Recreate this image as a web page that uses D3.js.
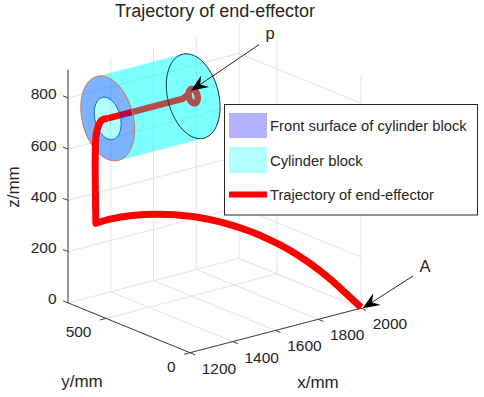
<!DOCTYPE html>
<html>
<head>
<meta charset="utf-8">
<script src="https://cdn.jsdelivr.net/npm/d3@7"></script>
<style>
  body { margin: 0; background: #fff; }
  text { font-family: "Liberation Sans", Arial, sans-serif; fill: #262626; }
</style>
</head>
<body>
<div id="chart"></div>
<script>
// Axis ticks
var xTicks = [1200, 1400, 1600, 1800, 2000]
var yTicks = [0, 500]
var zTicks = [0, 200, 400, 600, 800]
var xRange = [1200, 2000]
var yRange = [0, 726]
var zRange = [0, 910]

// Trajectory from A along the arc (mm)
var arcX = [2000, 1957, 1910, 1856, 1801, 1743, 1681, 1619, 1557, 1495, 1398, 1297, 1234, 1200]
var arcY = [0, 30, 70, 120, 170, 215, 255, 295, 335, 375, 430, 480, 520, 560]
var arcZ = [3, 56, 115, 174, 224, 265, 301, 330, 352, 368, 382, 385, 375, 355]

// Trajectory going up to the front of the cylinder (mm)
var riseX = [1200, 1200, 1200, 1200, 1200]
var riseY = [560, 560, 548, 524, 490]
var riseZ = [355, 692, 734, 768, 783]

// Trajectory inside the cylinder, ending with the small ring at p (mm)
var rodX = [1200, 1550, 1600, 1600, 1600, 1600, 1600, 1600, 1600, 1600, 1600, 1600, 1600, 1600, 1600]
var rodY = [490, 490, 518, 514, 504, 490, 476, 466, 462, 466, 476, 490, 504, 514, 518]
var rodZ = [783, 783, 783, 797, 807, 811, 807, 797, 783, 769, 759, 755, 759, 769, 783]

// Cylinder block (mm)
var cylX = [1200, 1600]
var cylCenter = [490, 783]
var cylRadius = [160, 80]

var legendLabels = ["Front surface of cylinder block", "Cylinder block", "Trajectory of end-effector"]

var W = 484, H = 397

var svg = d3.select("#chart").append("svg")
  .attr("width", W)
  .attr("height", H)

// Oblique projection, each data axis adds its own screen offset
var xToPx = d3.scaleLinear().domain(xRange).range([0, 171])
var xToPy = d3.scaleLinear().domain(xRange).range([0, -44.5])
var yToPx = d3.scaleLinear().domain([0, 500]).range([0, -84])
var yToPy = d3.scaleLinear().domain([0, 500]).range([0, -34.3])
var zToPy = d3.scaleLinear().domain([0, 800]).range([0, -205])

function project(x, y, z) {
  return [190 + xToPx(x) + yToPx(y), 352.7 + xToPy(x) + yToPy(y) + zToPy(z)]
}

var line3d = d3.line()
var smooth3d = d3.line().curve(d3.curveCatmullRom)
function points(xs, ys, zs) {
  return xs.map(function (x, i) { return project(x, ys[i], zs[i]) })
}
function segment(a, b) {
  return line3d([project(a[0], a[1], a[2]), project(b[0], b[1], b[2])])
}

// Points of a circle in the y-z plane, from angle a0 to a1 (radians)
function arc3d(x, r, a0, a1) {
  return d3.range(0, 61).map(function (i) {
    var t = a0 + (a1 - a0) * i / 60
    return project(x, cylCenter[0] + r * Math.cos(t), cylCenter[1] + r * Math.sin(t))
  })
}

// Grid on the floor and the two back walls
var grid = svg.append("g").attr("stroke", "#e4e4e4").attr("fill", "none")
function gridLine(a, b) {
  grid.append("path").attr("d", segment(a, b))
}
xTicks.forEach(function (x) {
  gridLine([x, yRange[0], 0], [x, yRange[1], 0])
  gridLine([x, yRange[1], 0], [x, yRange[1], zRange[1]])
})
yTicks.forEach(function (y) {
  gridLine([xRange[0], y, 0], [xRange[1], y, 0])
  gridLine([xRange[1], y, 0], [xRange[1], y, zRange[1]])
})
zTicks.forEach(function (z) {
  gridLine([xRange[0], yRange[1], z], [xRange[1], yRange[1], z])
  gridLine([xRange[1], yRange[1], z], [xRange[1], yRange[0], z])
})

// Axes and ticks
var axes = svg.append("g").attr("stroke", "#404040").attr("fill", "none")
function axisLine(a, b) {
  axes.append("path").attr("d", segment(a, b))
}
axisLine([xRange[0], 0, 0], [xRange[1], 0, 0])
axisLine([xRange[0], 0, 0], [xRange[0], yRange[1], 0])
axisLine([xRange[0], yRange[1], 0], [xRange[0], yRange[1], zRange[1]])
xTicks.forEach(function (x) { axisLine([x, 0, 0], [x, -30, 0]) })
yTicks.forEach(function (y) { axisLine([xRange[0], y, 0], [xRange[0] - 28, y, 0]) })
zTicks.forEach(function (z) { axisLine([xRange[0], yRange[1], z], [xRange[0], yRange[1] + 30, z]) })

// Tick labels
var ticks = svg.append("g").attr("font-size", 15.5)
xTicks.forEach(function (x) {
  var p = project(x, 0, 0)
  ticks.append("text").attr("x", p[0] + 29).attr("y", p[1] + 21)
    .attr("text-anchor", "middle").text(x)
})
yTicks.forEach(function (y) {
  var p = project(xRange[0], y, 0)
  ticks.append("text").attr("x", p[0] - 14.5).attr("y", p[1] + 19)
    .attr("text-anchor", "end").text(y)
})
zTicks.forEach(function (z) {
  var p = project(xRange[0], yRange[1], z)
  ticks.append("text").attr("x", p[0] - 11.5).attr("y", p[1] + 1.5)
    .attr("text-anchor", "end").text(z)
})

// Cylinder, silhouette angle is where the circle runs parallel to the x axis
var tangent = 66.3 * Math.PI / 180
var rightArc = [tangent, tangent + Math.PI]
var leftArc = [tangent + Math.PI, tangent + 2 * Math.PI]
var outer = cylRadius[0], inner = cylRadius[1]
var cyan = "#00ffff", alpha = 0.3

// far layer goes under the trajectory
svg.append("path")
  .attr("d", line3d(arc3d(cylX[0], outer, leftArc[0], leftArc[1])
    .concat(arc3d(cylX[1], outer, rightArc[0], rightArc[1]))) + "Z")
  .attr("fill", cyan).attr("fill-opacity", alpha)

svg.append("path")
  .attr("d", line3d(points(rodX, rodY, rodZ)))
  .attr("fill", "none").attr("stroke", "#ff0000").attr("stroke-width", 6.5)
  .attr("stroke-linejoin", "round")

// front annulus
svg.append("path")
  .attr("d", line3d(arc3d(cylX[0], outer, 0, 2 * Math.PI)) + "Z"
    + line3d(arc3d(cylX[0], inner, 0, 2 * Math.PI)) + "Z")
  .attr("fill", "#0000ff").attr("fill-opacity", alpha).attr("fill-rule", "evenodd")

// near wall, between the right arcs of both end circles
svg.append("path")
  .attr("d", line3d(arc3d(cylX[0], outer, rightArc[0], rightArc[1])
    .concat(arc3d(cylX[1], outer, rightArc[1], rightArc[0]))) + "Z")
  .attr("fill", cyan).attr("fill-opacity", alpha)

// outlines
svg.append("path").attr("d", line3d(arc3d(cylX[1], outer, 0, 2 * Math.PI)) + "Z")
  .attr("fill", "none").attr("stroke", "#0c3c3c").attr("stroke-width", 1)
svg.append("path").attr("d", line3d(arc3d(cylX[0], outer, 0, 2 * Math.PI)) + "Z")
  .attr("fill", "none").attr("stroke", "#d9714f").attr("stroke-width", 1)
svg.append("path").attr("d", line3d(arc3d(cylX[0], inner, 0, 2 * Math.PI)) + "Z")
  .attr("fill", "none").attr("stroke", "#0072bd").attr("stroke-width", 1)

// arc and rise are one stroke, joined at the sharp corner
svg.append("path")
  .attr("d", smooth3d(points(arcX, arcY, arcZ))
    + smooth3d(points(riseX, riseY, riseZ)).replace("M", "L"))
  .attr("fill", "none").attr("stroke", "#ff0000").attr("stroke-width", 7)
  .attr("stroke-linejoin", "round")

// Annotation arrows with a notched head
function AddArrow(from, tip, label, labelPos) {
  var dx = from[0] - tip[0], dy = from[1] - tip[1]
  var len = Math.sqrt(dx * dx + dy * dy)
  var ux = dx / len, uy = dy / len
  svg.append("line")
    .attr("x1", from[0]).attr("y1", from[1])
    .attr("x2", tip[0] + ux * 10).attr("y2", tip[1] + uy * 10)
    .attr("stroke", "#262626").attr("stroke-width", 1)
  svg.append("path")
    .attr("d", line3d([
      tip,
      [tip[0] + ux * 17 - uy * 7, tip[1] + uy * 17 + ux * 7],
      [tip[0] + ux * 11, tip[1] + uy * 11],
      [tip[0] + ux * 17 + uy * 7, tip[1] + uy * 17 - ux * 7]
    ]) + "Z")
    .attr("fill", "#000")
  svg.append("text").attr("x", labelPos[0]).attr("y", labelPos[1])
    .attr("text-anchor", "middle").attr("font-size", 16.5).text(label)
}
AddArrow([259, 44.7], [191, 90.7], "p", [270, 39])
AddArrow([413, 276], [362.7, 308.3], "A", [425, 272])

// Legend
var legend = svg.append("g")
legend.append("rect")
  .attr("x", 224.5).attr("y", 104.5).attr("width", 253).attr("height", 110.5)
  .attr("fill", "#fff").attr("stroke", "#262626")
legend.append("rect").attr("x", 229).attr("y", 113).attr("width", 38).attr("height", 25)
  .attr("fill", "#0000ff").attr("fill-opacity", alpha)
legend.append("rect").attr("x", 229).attr("y", 147).attr("width", 38).attr("height", 26)
  .attr("fill", cyan).attr("fill-opacity", alpha)
legend.append("rect").attr("x", 229).attr("y", 191.5).attr("width", 38).attr("height", 6)
  .attr("fill", "#ff0000")
var legendY = d3.scalePoint().domain(legendLabels).range([131, 200])
legendLabels.forEach(function (d) {
  legend.append("text").attr("x", 270).attr("y", legendY(d))
    .attr("font-size", 14.75).text(d)
})

// Title and axis labels
svg.append("text").attr("x", 215).attr("y", 17).attr("text-anchor", "middle")
  .attr("font-size", 18).text("Trajectory of end-effector")
svg.append("text").attr("x", 82).attr("y", 387).attr("text-anchor", "middle")
  .attr("font-size", 17).text("y/mm")
svg.append("text").attr("x", 318).attr("y", 388).attr("text-anchor", "middle")
  .attr("font-size", 17).text("x/mm")
svg.append("text").attr("transform", "translate(19,187) rotate(-90)")
  .attr("text-anchor", "middle").attr("font-size", 17).text("z/mm")
</script>
</body>
</html>
